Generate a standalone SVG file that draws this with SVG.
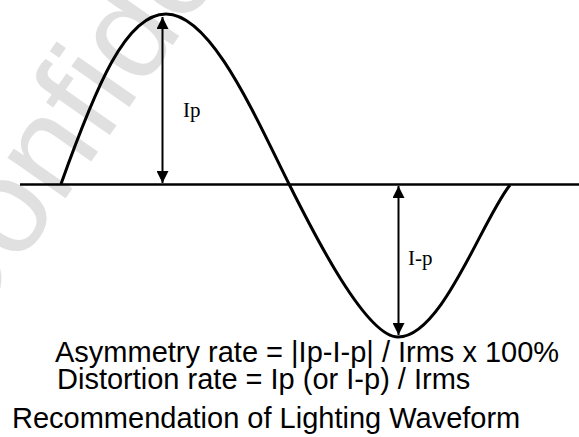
<svg xmlns="http://www.w3.org/2000/svg" width="579" height="437" viewBox="0 0 579 437">
<style>
.wm{font-family:"Liberation Sans",Arial,sans-serif;font-size:134px;fill:#e0e0e0}
.axis{stroke:#000;stroke-width:2.5;fill:none}
.wave{stroke:#000;stroke-width:3;fill:none;stroke-linejoin:round}
.arr{stroke:#000;stroke-width:2;fill:none;marker-start:url(#ah);marker-end:url(#ah)}
.lbl{font-family:"Liberation Serif","Times New Roman",serif;font-size:21px;fill:#000}
.txt{font-family:"Liberation Sans",Arial,sans-serif;font-size:29px;fill:#000}
</style>
<defs>
<marker id="ah" viewBox="0 0 12 12" refX="12" refY="6" markerWidth="12" markerHeight="12" markerUnits="userSpaceOnUse" orient="auto-start-reverse">
<path d="M0,0 L12,6 L0,12 Z" fill="#000"/>
</marker>
</defs>
<rect width="579" height="437" fill="#fff"/>
<text class="wm" transform="translate(-38,346) rotate(-55)">Confidential</text>
<g id="axis">
<line class="axis" x1="20" y1="184.5" x2="579" y2="184.5"/>
</g>
<g id="waveform">
<path class="wave" d="M61,184 C96,86 126,14 166,14 C211,14 254,114 289,184 C314,234 366,337 398,337 C442,337 482,220 510,185"/>
</g>
<g id="connectors">
<line class="arr" x1="162.5" y1="183" x2="162.5" y2="17"/>
<line class="arr" x1="398.5" y1="186" x2="398.5" y2="335"/>
</g>
<g id="label-ip">
<text class="lbl" x="183" y="117">Ip</text>
</g>
<g id="label-i-p">
<text class="lbl" x="408" y="265">I-p</text>
</g>
<g id="formulas">
<text class="txt" x="55" y="362">Asymmetry rate = |Ip-I-p| / Irms x 100%</text>
<text class="txt" x="57" y="389">Distortion rate = Ip (or I-p) / Irms</text>
</g>
<g id="caption">
<text class="txt" x="12" y="428">Recommendation of Lighting Waveform</text>
</g>
</svg>
